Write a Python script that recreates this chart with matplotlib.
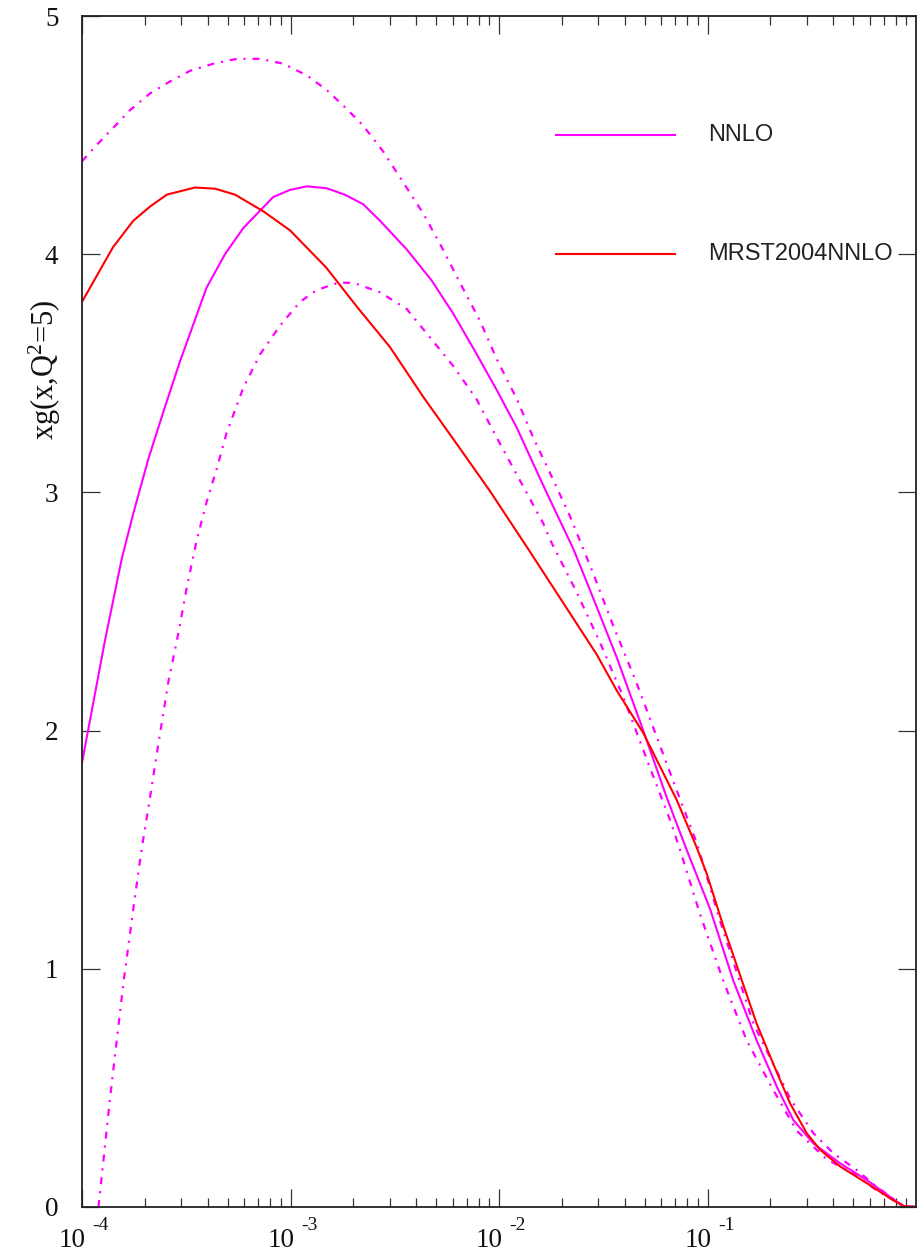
import numpy as np
import matplotlib
matplotlib.use("Agg")
import matplotlib.pyplot as plt
import matplotlib.transforms as mtransforms
from matplotlib.ticker import FixedLocator, FixedFormatter, NullFormatter

plt.rcParams['mathtext.fontset'] = 'custom'
plt.rcParams['mathtext.rm'] = 'Liberation Serif'
plt.rcParams['mathtext.it'] = 'Liberation Serif:italic'
plt.rcParams['lines.scale_dashes'] = False

# MRST2004NNLO central gluon
x_mrst = [1.00e-4, 1.41e-4, 1.76e-4, 2.12e-4, 2.55e-4, 3.48e-4, 4.35e-4, 5.42e-4,
          7.41e-4, 9.95e-4, 1.48e-3, 2.08e-3, 3.00e-3, 4.34e-3, 6.31e-3, 9.06e-3,
          1.41e-2, 2.94e-2, 3.66e-2, 4.92e-2, 7.11e-2, 8.87e-2, 9.91e-2, 0.119,
          0.172, 0.207, 0.249, 0.299, 0.347, 0.433, 0.581, 0.750, 0.869, 1.0]
y_mrst = [3.80, 4.03, 4.14, 4.20, 4.25, 4.28, 4.275, 4.25,
          4.18, 4.10, 3.945, 3.78, 3.61, 3.40, 3.20, 3.005,
          2.75, 2.32, 2.17, 1.99, 1.71, 1.51, 1.40, 1.18,
          0.77, 0.60, 0.435, 0.31, 0.24, 0.17, 0.10, 0.037, 0.004, 0.0]

# NNLO central
x_nnlo = [1.00e-4, 1.14e-4, 1.29e-4, 1.55e-4, 1.76e-4, 2.08e-4, 2.46e-4, 2.95e-4, 3.96e-4,
          4.85e-4, 5.94e-4, 8.26e-4, 9.95e-4, 1.20e-3, 1.49e-3, 1.82e-3, 2.23e-3,
          2.69e-3, 3.61e-3, 4.75e-3, 6.04e-3, 7.82e-3, 9.75e-3, 1.22e-2, 1.46e-2,
          1.69e-2, 2.28e-2, 2.94e-2, 3.66e-2, 4.92e-2, 6.37e-2, 7.94e-2, 0.103,
          0.133, 0.172, 0.215, 0.258, 0.322, 0.433, 0.581, 0.750, 0.869, 1.0]
y_nnlo = [1.865, 2.13, 2.38, 2.72, 2.91, 3.14, 3.34, 3.55, 3.86,
          4.00, 4.11, 4.24, 4.27, 4.285, 4.277, 4.25, 4.21,
          4.14, 4.02, 3.89, 3.75, 3.58, 3.43, 3.27, 3.12,
          3.00, 2.76, 2.52, 2.31, 2.00, 1.72, 1.50, 1.25,
          0.95, 0.70, 0.505, 0.365, 0.267, 0.183, 0.113, 0.043, 0.004, 0.0]

# NNLO upper error band
x_up = [1.00e-4, 1.18e-4, 1.41e-4, 1.70e-4, 2.12e-4, 2.64e-4, 3.30e-4, 4.27e-4,
        5.52e-4, 7.15e-4, 9.23e-4, 1.20e-3, 1.49e-3, 1.86e-3, 2.23e-3, 2.79e-3,
        3.48e-3, 4.34e-3, 5.31e-3, 6.50e-3, 8.11e-3, 9.75e-3, 1.22e-2, 1.46e-2,
        1.76e-2, 2.19e-2, 2.83e-2, 3.53e-2, 4.57e-2, 5.70e-2, 7.11e-2, 8.87e-2,
        0.115, 0.166, 0.251, 0.322, 0.402, 0.520, 0.647, 0.871, 1.0]
y_up = [4.39, 4.46, 4.53, 4.605, 4.675, 4.725, 4.77, 4.80,
        4.82, 4.82, 4.80, 4.75, 4.69, 4.61, 4.54, 4.43,
        4.30, 4.17, 4.03, 3.88, 3.72, 3.56, 3.39, 3.23,
        3.08, 2.90, 2.66, 2.44, 2.20, 1.975, 1.75, 1.53,
        1.20, 0.77, 0.45, 0.31, 0.225, 0.155, 0.085, 0.004, 0.0]

# NNLO lower error band
x_lo = [1.20e-4, 1.36e-4, 1.585e-4, 1.78e-4, 1.93e-4, 2.12e-4, 2.32e-4, 2.59e-4,
        2.90e-4, 3.18e-4, 3.55e-4, 3.96e-4, 4.43e-4, 4.94e-4, 5.94e-4, 7.15e-4,
        8.91e-4, 1.11e-3, 1.34e-3, 1.69e-3, 2.00e-3, 2.69e-3, 3.61e-3, 4.67e-3,
        6.04e-3, 7.82e-3, 9.75e-3, 1.26e-2, 1.63e-2, 1.76e-2, 2.36e-2, 3.05e-2,
        3.95e-2, 5.11e-2, 6.61e-2, 7.38e-2, 9.20e-2, 0.119, 0.154, 0.207,
        0.268, 0.373, 0.501, 0.647, 0.871, 1.0]
y_lo = [0.0, 0.45, 0.95, 1.28, 1.50, 1.72, 1.94, 2.20,
        2.41, 2.60, 2.80, 2.96, 3.10, 3.25, 3.44, 3.58,
        3.70, 3.80, 3.85, 3.88, 3.88, 3.84, 3.77, 3.65,
        3.53, 3.39, 3.23, 3.05, 2.87, 2.80, 2.58, 2.37,
        2.14, 1.88, 1.625, 1.50, 1.23, 0.95, 0.70, 0.49,
        0.32, 0.20, 0.14, 0.07, 0.004, 0.0]

x_major = [1e-4, 1e-3, 1e-2, 1e-1]
x_exps = ['-4', '-3', '-2', '-1']
y_major = [0, 1, 2, 3, 4, 5]

fig = plt.figure(figsize=(9.24, 12.51), dpi=100)
ax = fig.add_axes([82 / 924, 44 / 1251, 834 / 924, 1191 / 1251])

dashdot = (0, (5.0, 5.0, 1.5, 5.0))
ax.plot(x_up, y_up, color='#ff00ff', lw=1.6, ls=dashdot)
ax.plot(x_lo, y_lo, color='#ff00ff', lw=1.6, ls=dashdot)
ax.plot(x_nnlo, y_nnlo, color='#ff00ff', lw=1.5)
ax.plot(x_mrst, y_mrst, color='#ff0000', lw=1.5)

ax.set_xscale('log')
ax.set_xlim(1e-4, 1)
ax.set_ylim(0, 5)

minors = [m * 10.0 ** e for e in range(-4, 0) for m in range(2, 10)]
ax.xaxis.set_major_locator(FixedLocator(x_major))
ax.xaxis.set_major_formatter(NullFormatter())
ax.xaxis.set_minor_locator(FixedLocator(minors))
ax.xaxis.set_minor_formatter(NullFormatter())
ax.yaxis.set_major_locator(FixedLocator(y_major))
ax.yaxis.set_major_formatter(FixedFormatter([str(v) for v in y_major]))

ax.tick_params(which='both', direction='in', top=True, right=True,
               color='#333333', width=0.9)
ax.tick_params(which='major', length=13)
ax.tick_params(which='minor', length=6.5)
ax.tick_params(axis='y', which='major', pad=17)
for lab in ax.get_yticklabels():
    lab.set_fontfamily('Liberation Serif')
    lab.set_fontsize(19.5)
    lab.set_color('#111111')
for sp in ax.spines.values():
    sp.set_linewidth(1.3)
    sp.set_color('#222222')

# x tick labels: "10" with a raised exponent
blend = mtransforms.blended_transform_factory(ax.transData, ax.transAxes)
for xv, ex in zip(x_major, x_exps):
    t_base = mtransforms.offset_copy(blend, fig=fig, x=2.9, y=-28.8, units='points')
    t_exp = mtransforms.offset_copy(blend, fig=fig, x=7.5, y=-16.6, units='points')
    ax.text(xv, 0, '10', transform=t_base, ha='right', va='baseline',
            fontsize=19.5, family='Liberation Serif', color='#111111', clip_on=False)
    ax.text(xv, 0, ex, transform=t_exp, ha='left', va='baseline',
            fontsize=14, family='Liberation Serif', color='#111111', clip_on=False)

ax.text(-0.044, 0.703, r'xg(x,Q$^{2}$=5)', transform=ax.transAxes,
        rotation=90, ha='center', va='center', fontsize=22,
        family='Liberation Serif', color='#111111')

# legend
ax.plot([0.5683, 0.7110], [0.9001, 0.9001], transform=ax.transAxes,
        color='#ff00ff', lw=1.5)
ax.plot([0.5683, 0.7110], [0.7999, 0.7999], transform=ax.transAxes,
        color='#ff0000', lw=1.5)
ax.text(0.7506, 0.9001, 'NNLO', transform=ax.transAxes, ha='left', va='center',
        fontsize=17, family='Liberation Sans', color='#222222')
ax.text(0.7506, 0.7999, 'MRST2004NNLO', transform=ax.transAxes, ha='left',
        va='center', fontsize=17, family='Liberation Sans', color='#222222')

fig.savefig('out.png', dpi=100)
